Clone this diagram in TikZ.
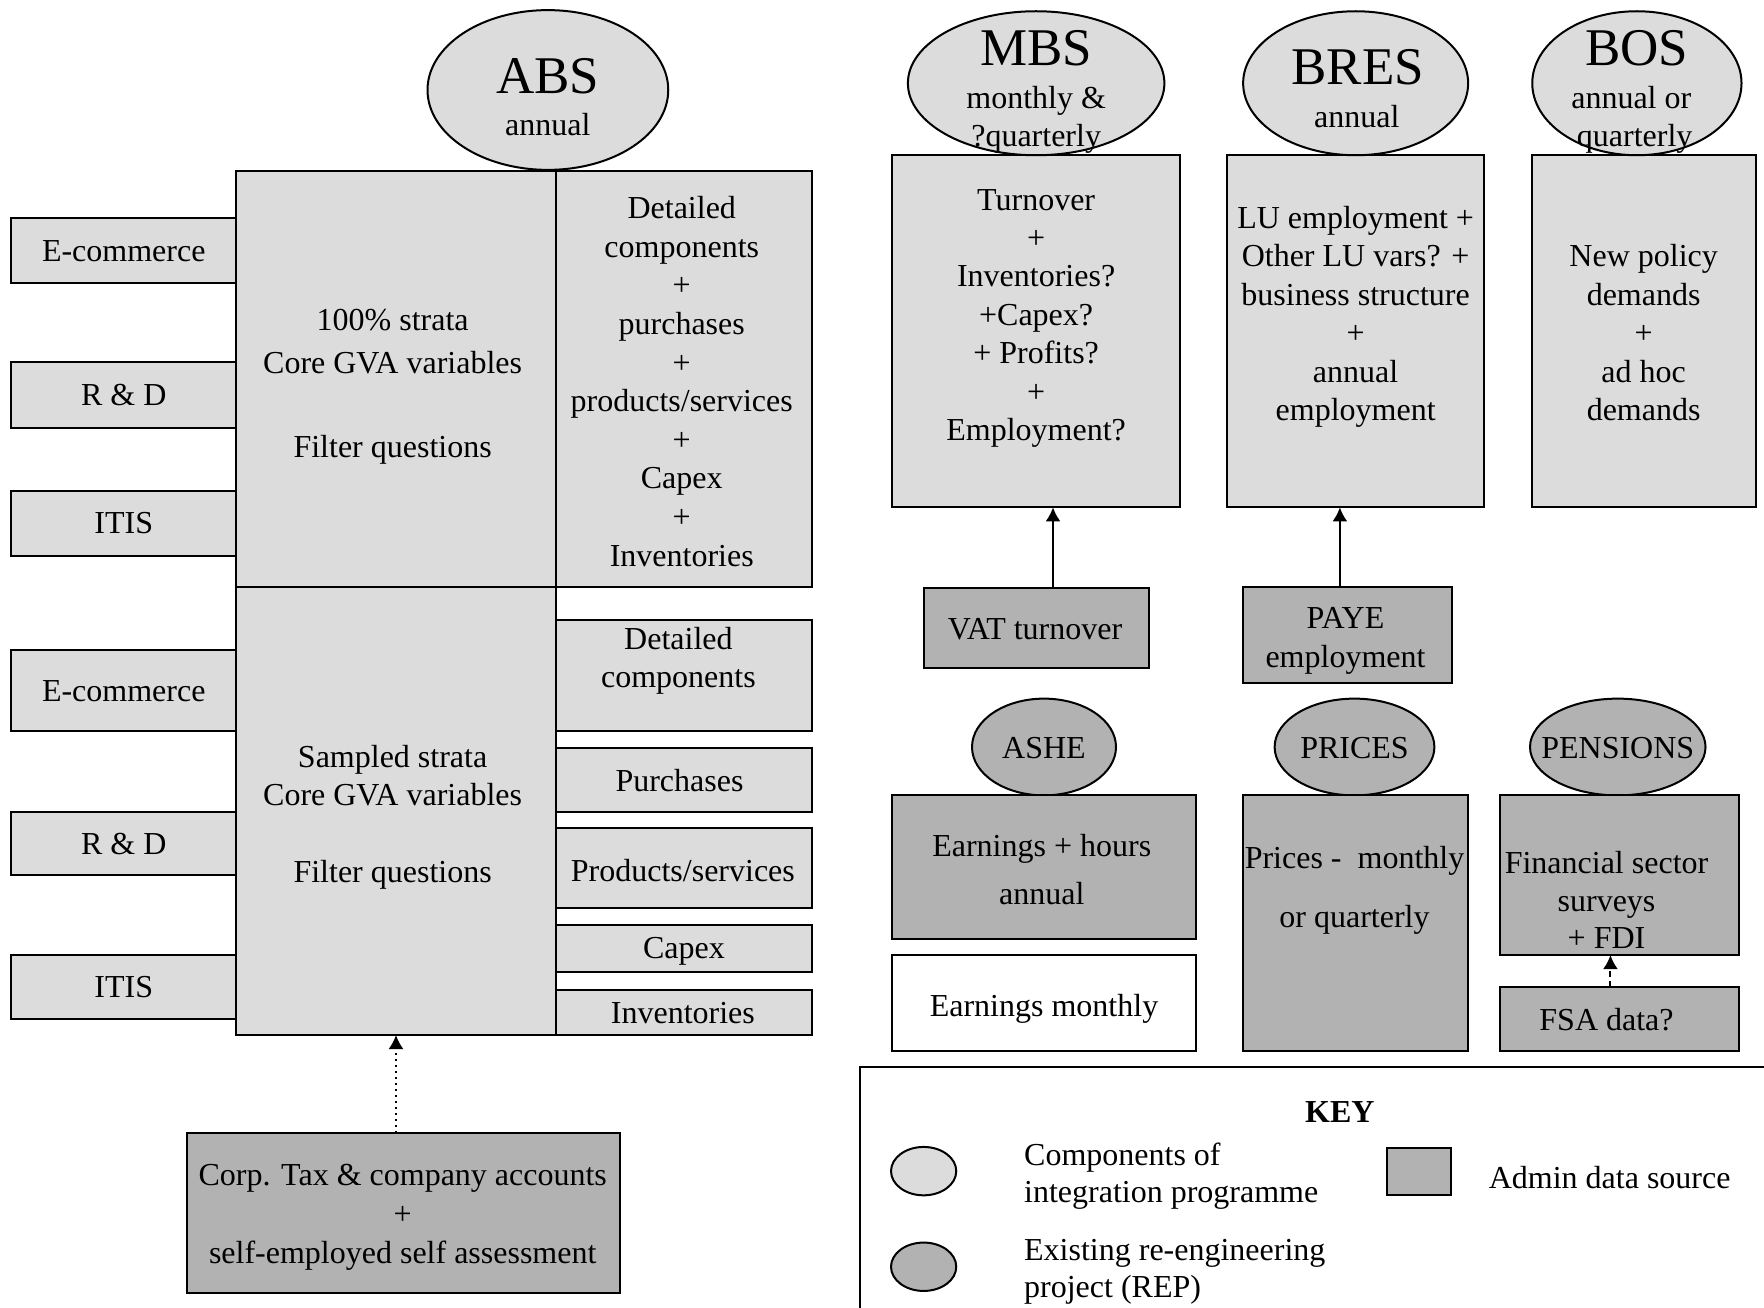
\documentclass[tikz,border=0pt]{standalone}
\usepackage{fontspec}
\setmainfont{Liberation Serif}
\usetikzlibrary{shapes.geometric,arrows.meta,calc}
\definecolor{lgray}{HTML}{DCDCDC}
\definecolor{dgray}{HTML}{B2B2B2}
\newcommand\rbox[7]{\node[#1,minimum width={(#4-#2)*0.5625pt},minimum height={(#5-#3)*0.5625pt}] (#6) at ({(#2+#4)/2},{(#3+#5)/2}) {#7};}
\newcommand\mkell[6]{\node[#1,minimum width={2*#4*0.5625pt},minimum height={2*#5*0.5625pt}] (#6) at (#2,#3) {};}
\tikzset{
  every node/.style={font=\fontsize{16}{19.2}\selectfont},
  lbox/.style={draw, line width=1pt, fill=lgray, rectangle, inner sep=0pt, outer sep=0pt, align=center},
  dbox/.style={lbox, fill=dgray},
  wbox/.style={lbox, fill=white},
  lell/.style={draw, line width=1pt, fill=lgray, ellipse, inner sep=0pt, outer sep=0pt},
  dell/.style={lell, fill=dgray},
  txt/.style={align=center, inner sep=0pt},
  one/.style={text height=12.6pt, text depth=2pt},
  big/.style={inner sep=0pt, font=\fontsize{26.5}{30}\selectfont},
  arr/.style={line width=1pt, -{Latex[length=7pt,width=7.5pt]}},
}
\begin{document}
\begin{tikzpicture}[x=0.5625pt,y=-0.5625pt]
\useasboundingbox (0,0) rectangle (1568,1162);

% ---------- ABS ----------
\rbox{lbox,one}{10}{194}{210}{252}{ec1}{E-commerce}
\rbox{lbox,one}{10}{322}{210}{380}{rd1}{R \& D}
\rbox{lbox,one}{10}{436}{210}{494}{it1}{ITIS}
\rbox{lbox,one}{10}{578}{210}{650}{ec2}{E-commerce}
\rbox{lbox,one}{10}{722}{210}{778}{rd2}{R \& D}
\rbox{lbox,one}{10}{849}{210}{906}{it2}{ITIS}

\rbox{lbox}{210}{152}{494}{522}{top}{}
\node[txt,font=\fontsize{16}{21.2}\selectfont] (topt) at (349,344) {100\% strata\\Core GVA variables\\[21.2pt]Filter questions};
\rbox{lbox,font=\fontsize{16}{19.3}\selectfont}{494}{152}{722}{522}{topr}{}
\node[txt,font=\fontsize{16}{19.3}\selectfont] (toprt) at (606,339) {Detailed\\components\\+\\purchases\\+\\products/services\\+\\Capex\\+\\Inventories};
\rbox{lbox}{210}{522}{494}{920}{low}{}
\node[txt] (lowt) at (349,726.5) {Sampled strata\\Core GVA variables\\[19.2pt]Filter questions};

\rbox{lbox}{494}{551}{722}{650}{ldc}{}
\node[txt] (ldct) at (603,587.5) {Detailed\\components};
\rbox{lbox,one}{494}{665}{722}{722}{lpu}{}
\node[txt,one] (lput) at (604,694) {Purchases};
\rbox{lbox}{494}{736}{722}{807}{lps}{}
\node[txt,one] (lpst) at (607,774) {Products/services};
\rbox{lbox}{494}{822}{722}{864}{lcx}{}
\node[txt,one] (lcxt) at (608,843) {Capex};
\rbox{lbox}{494}{880}{722}{920}{lin}{}
\node[txt,one] (lint) at (607,900) {Inventories};

\mkell{lell}{487}{80}{107}{71}{abs}
\node[big] (abst) at (487,68) {ABS};
\node[txt,one] (absf) at (487,111) {annual};

\rbox{dbox}{166}{1007}{551}{1149}{corp}{}
\node[txt,font=\fontsize{16}{19.5}\selectfont] (corpt) at (358,1082) {Corp. Tax \& company accounts\\+\\self-employed self assessment};
\draw[arr,dotted] (low.south |- corp.north) -- (low.south);

% ---------- MBS / BRES / BOS ----------
\rbox{lbox}{793}{138}{1049}{451}{mbsb}{}
\node[txt] (mbst) at (921,283) {Turnover\\+\\Inventories?\\+Capex?\\+ Profits?\\+\\Employment?};
\rbox{lbox}{1091}{138}{1319}{451}{bresb}{}
\node[txt,font=\fontsize{16}{19.25}\selectfont] (brest) at (1205,281.5) {LU employment +\\Other LU vars? +\\business structure\\+\\annual\\employment};
\rbox{lbox}{1362}{138}{1561}{451}{bosb}{}
\node[txt,font=\fontsize{16}{19.25}\selectfont] (bost) at (1461,296) {New policy\\demands\\+\\ad hoc\\demands};

\mkell{lell}{921}{74}{114}{64}{mbs}
\node[big] (mbsl) at (921,43) {MBS};
\node[txt,one] (mbsf1) at (921,87) {monthly \&};
\node[txt,one] (mbsf2) at (921,121) {?quarterly};
\mkell{lell}{1205}{74}{100}{64}{bres}
\node[big] (bresl) at (1207,60) {BRES};
\node[txt,one] (bresf) at (1206,104) {annual};
\mkell{lell}{1455}{74}{93}{64}{bos}
\node[big] (bosl) at (1455,43) {BOS};
\node[txt,one] (bosf1) at (1450,87) {annual or};
\node[txt,one] (bosf2) at (1453,121) {quarterly};

\rbox{dbox}{821}{523}{1021}{594}{vat}{}
\node[txt,one] (vatt) at (920,559) {VAT turnover};
\rbox{dbox}{1105}{522}{1291}{607}{paye}{}
\node[txt,font=\fontsize{16}{19.7}\selectfont] (payet) at (1196,569.5) {PAYE\\employment};
\coordinate (va) at ($(vat.north)+(15,0)$);
\coordinate (pa) at ($(paye.north)+(-7,0)$);
\draw[arr] (va) -- (va |- mbsb.south);
\draw[arr] (pa) -- (pa |- bresb.south);

% ---------- ASHE / PRICES / PENSIONS ----------
\mkell{dell}{928}{664}{64}{43}{ashe}
\node[txt,one] (ashet) at (928,665) {ASHE};
\mkell{dell}{1204}{664}{71}{43}{prices}
\node[txt,one] (pricest) at (1204,665) {PRICES};
\mkell{dell}{1438}{664}{78}{43}{pens}
\node[txt,one] (penst) at (1438,665) {PENSIONS};

\rbox{dbox}{793}{707}{1063}{835}{earn}{}
\node[txt,font=\fontsize{16}{24.2}\selectfont] (earnt) at (926,773) {Earnings + hours\\annual};
\rbox{wbox}{793}{849}{1063}{934}{earnm}{}
\node[txt,one] (earnmt) at (928,894) {Earnings monthly};
\rbox{dbox}{1105}{707}{1305}{934}{priceb}{}
\node[txt,font=\fontsize{16}{29.3}\selectfont] (pricebt) at (1204,791.5) {Prices -\ \ monthly\\or quarterly};
\rbox{dbox}{1333}{707}{1546}{849}{fin}{}
\node[txt,font=\fontsize{16}{18.6}\selectfont] (fint) at (1428,800) {Financial sector\\surveys\\+ FDI};
\rbox{dbox}{1333}{877}{1546}{934}{fsa}{}
\node[txt,one] (fsat) at (1428,907) {FSA data?};
\coordinate (fa) at ($(fsa.north)+(-8,0)$);
\draw[arr,dash pattern=on 3pt off 2pt] (fa) -- (fa |- fin.south);

% ---------- KEY ----------
\rbox{wbox}{764}{948}{1580}{1175}{key}{}
\node[txt,one,font=\fontsize{16}{19.2}\bfseries] (keyt) at (1191,988) {KEY};
\mkell{lell}{821}{1041}{29}{21.5}{k1}
\mkell{dell}{821}{1126}{29}{21.5}{k2}
\rbox{dbox}{1233}{1020}{1290}{1062}{k3}{}
\node[txt,align=left,anchor=west,font=\fontsize{16}{18.6}\selectfont] (k1t) at (910,1045.5) {Components of\\integration programme};
\node[txt,align=left,anchor=west,font=\fontsize{16}{18.6}\selectfont] (k2t) at (910,1130.5) {Existing re-engineering\\project (REP)};
\node[txt,one,anchor=west] (k3t) at (1323,1047) {Admin data source};
\end{tikzpicture}
\end{document}
